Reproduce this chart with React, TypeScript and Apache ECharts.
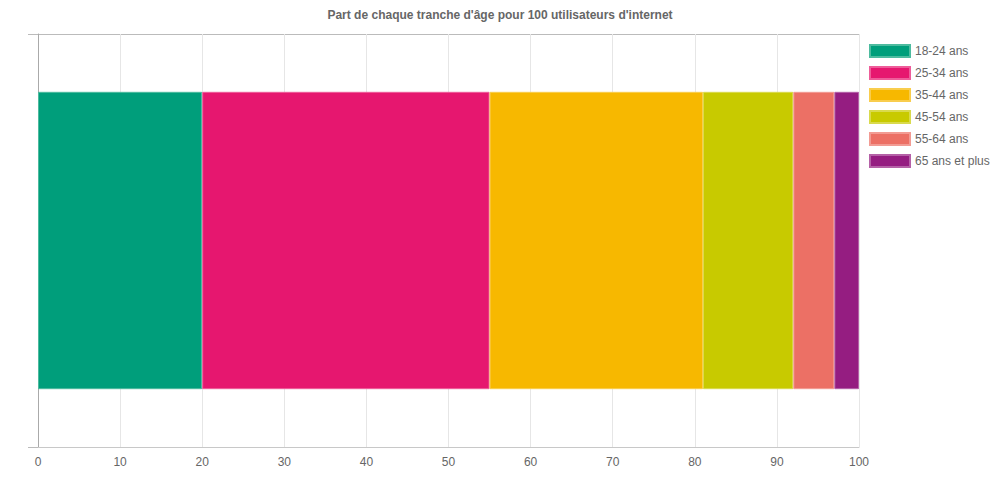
import React, { useEffect, useRef } from "react";
import * as echarts from "echarts";

const categories = [""];
const seriesNames = ["18-24 ans", "25-34 ans", "35-44 ans", "45-54 ans", "55-64 ans", "65 ans et plus"];
const seriesValues = [20, 35, 26, 11, 5, 3];
const seriesColors = ["#009E7B", "#E6176F", "#F7B800", "#C8CA00", "#EC7065", "#951D81"];
const borderColors = ["#4dbb9f", "#ee5d9a", "#f9cd4d", "#d9da4d", "#f29b93", "#b561a7"];
const titleText = "Part de chaque tranche d'âge pour 100 utilisateurs d'internet";

const FONT = "'Liberation Sans', Arial, Helvetica, sans-serif";

export default function App() {
  const ref = useRef<HTMLDivElement>(null);
  useEffect(() => {
    if (!ref.current) return;
    const chart = echarts.init(ref.current, undefined, { renderer: "svg" });
    chart.setOption({
      animation: false,
      textStyle: { fontFamily: FONT },
      title: {
        text: titleText,
        left: "center",
        top: 9,
        padding: 0,
        textStyle: { fontSize: 12, fontWeight: "bold", color: "#666", fontFamily: FONT },
      },
      legend: {
        orient: "vertical",
        left: 869,
        top: 44,
        padding: 0,
        itemWidth: 40,
        itemHeight: 12,
        itemGap: 8,
        icon: "rect",
        data: seriesNames,
        textStyle: { fontSize: 12, color: "#666", fontFamily: FONT },
      },
      grid: { left: 38, right: 141, top: 34, bottom: 53, containLabel: false },
      xAxis: {
        type: "value",
        min: 0,
        max: 100,
        interval: 10,
        axisLine: { show: true, lineStyle: { color: "#c8c8c8" } },
        axisTick: { show: false },
        axisLabel: { color: "#666", fontSize: 12, margin: 9, fontFamily: FONT },
        splitLine: { show: true, lineStyle: { color: "#e6e6e6" } },
      },
      yAxis: {
        type: "category",
        data: categories,
        axisLine: { show: true, lineStyle: { color: "#aaaaaa" } },
        axisTick: { show: true, interval: 0, length: 10, lineStyle: { color: "#bbbbbb" } },
        axisLabel: { show: false },
        splitLine: { show: true, interval: 0, lineStyle: { color: "#bbbbbb" } },
      },
      series: seriesNames.map((name, i) => ({
        name,
        type: "bar",
        stack: "total",
        barWidth: "72%",
        data: [seriesValues[i]],
        itemStyle: { color: seriesColors[i], borderColor: borderColors[i], borderWidth: 1 },
      })),
    });
    return () => chart.dispose();
  }, []);
  return (
    <div
      ref={ref}
      style={{ position: "absolute", left: 0, top: 0, width: 1000, height: 500 }}
    />
  );
}
